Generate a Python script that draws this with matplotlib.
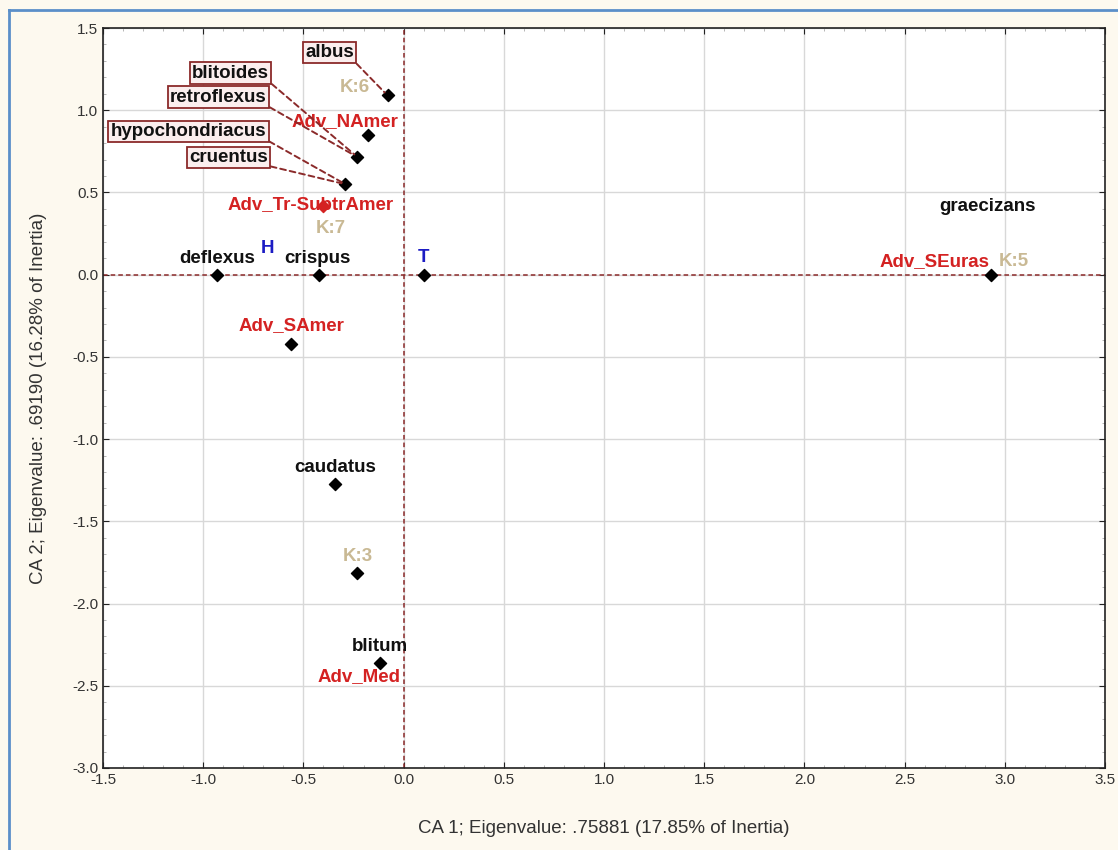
import matplotlib.pyplot as plt
from matplotlib.ticker import MultipleLocator
from matplotlib.lines import Line2D

plt.rcParams['font.family'] = ['Liberation Sans', 'DejaVu Sans']

# black diamond points (row/column coordinates)
pt_x = [-0.08, -0.18, -0.23, -0.29, -0.93, -0.42, 0.10, -0.56, -0.34, -0.23, -0.12, 2.93]
pt_y = [1.09, 0.85, 0.715, 0.55, 0.0, 0.0, 0.0, -0.42, -1.27, -1.815, -2.36, 0.0]

# red point
red_x = [-0.40]
red_y = [0.42]

# boxed species labels: name, point index they point to
boxed_names = ['albus', 'blitoides', 'retroflexus', 'hypochondriacus', 'cruentus']
boxed_pts = [0, 2, 2, 3, 3]

# plain labels: text, point (x, y), colour group
lab_text = ['K:6', 'Adv_NAmer', 'Adv_Tr-SubtrAmer', 'K:7', 'deflexus', 'H', 'crispus', 'T',
            'Adv_SAmer', 'caudatus', 'K:3', 'blitum', 'Adv_Med', 'graecizans', 'Adv_SEuras', 'K:5']
lab_x = [-0.08, -0.18, -0.40, -0.40, -0.93, -0.68, -0.42, 0.10,
         -0.56, -0.34, -0.23, -0.12, -0.12, 2.93, 2.93, 2.93]
lab_y = [1.09, 0.85, 0.42, 0.42, 0.0, 0.0, 0.0, 0.0,
         -0.42, -1.27, -1.815, -2.36, -2.36, 0.0, 0.0, 0.0]
lab_kind = ['K', 'adv', 'adv', 'K', 'sp', 'blue', 'sp', 'blue',
            'adv', 'sp', 'K', 'sp', 'adv', 'sp', 'adv', 'K']

# label offsets in pixels (layout)
lab_off = [(-33, 8), (-23, 13), (-13, 1), (7, -23), (0, 16), (0, 26), (-2, 16), (0, 17),
           (0, 18), (0, 16), (0, 17), (0, 16), (-21, -14), (-3, 68), (-56, 13), (23, 13)]
box_off = [(-58, 43), (-127, 84), (-139, 60), (-157, 53), (-117, 27)]

colors = {'K': '#c9b994', 'adv': '#d42222', 'sp': '#111111', 'blue': '#1c1cc4'}
dash_red = '#8b2a2a'

fig = plt.figure(figsize=(11.18, 8.5), dpi=100, facecolor='#fdf9ef')
ax = fig.add_axes([0.0921, 0.0965, 0.8963, 0.8705])

ax.set_xlim(-1.5, 3.5)
ax.set_ylim(-3.0, 1.5)
ax.xaxis.set_major_locator(MultipleLocator(0.5))
ax.yaxis.set_major_locator(MultipleLocator(0.5))
ax.xaxis.set_minor_locator(MultipleLocator(0.1))
ax.yaxis.set_minor_locator(MultipleLocator(0.1))
ax.tick_params(which='both', direction='in', top=True, right=True, labelsize=11, colors='#333333')
ax.tick_params(which='major', length=4, color='#222222')
ax.tick_params(which='minor', length=2, color='#aaaaaa')
ax.xaxis.set_major_formatter(plt.FuncFormatter(lambda v, p: f'{v:.1f}'))
ax.yaxis.set_major_formatter(plt.FuncFormatter(lambda v, p: f'{v:.1f}'))
ax.grid(True, which='major', color='#d8d8d8', lw=1)
ax.set_axisbelow(True)
for s in ax.spines.values():
    s.set_color('#222222')
    s.set_linewidth(1.2)

ax.axhline(0, color=dash_red, ls=(0, (3, 2)), lw=1.1, zorder=2)
ax.axvline(0, color=dash_red, ls=(0, (3, 2)), lw=1.1, zorder=2)

ax.set_xlabel('CA 1; Eigenvalue: .75881 (17.85% of Inertia)', fontsize=13.5, labelpad=24, color='#333333')
ax.set_ylabel('CA 2; Eigenvalue: .69190 (16.28% of Inertia)', fontsize=13.5, labelpad=18, color='#333333')

ax.scatter(pt_x, pt_y, marker='D', s=38, color='black', zorder=5)
ax.scatter(red_x, red_y, marker='D', s=38, color=colors['adv'], zorder=5)

for t, x, y, k, off in zip(lab_text, lab_x, lab_y, lab_kind, lab_off):
    ax.annotate(t, (x, y), xytext=off, textcoords='offset pixels', ha='center', va='center',
                fontsize=13.5, fontweight='bold', color=colors[k], zorder=6)

for name, i, off in zip(boxed_names, boxed_pts, box_off):
    ax.annotate(name, (pt_x[i], pt_y[i]), xytext=off, textcoords='offset pixels',
                ha='center', va='center', fontsize=13.5, fontweight='bold', color='#111111',
                bbox=dict(boxstyle='square,pad=0.12', fc='#fbeeee', ec=dash_red, lw=1.3),
                arrowprops=dict(arrowstyle='-', color=dash_red, ls=(0, (3, 2)), lw=1.4,
                                shrinkA=0, shrinkB=3, relpos=(1.0, 0.0)),
                zorder=6)

# window border
fig.add_artist(Line2D([0.008, 0.008], [0.0, 0.988], color='#5b8fc9', lw=2, transform=fig.transFigure))
fig.add_artist(Line2D([0.008, 1.0], [0.988, 0.988], color='#5b8fc9', lw=2, transform=fig.transFigure))

fig.savefig('out.png', dpi=100, facecolor=fig.get_facecolor())
